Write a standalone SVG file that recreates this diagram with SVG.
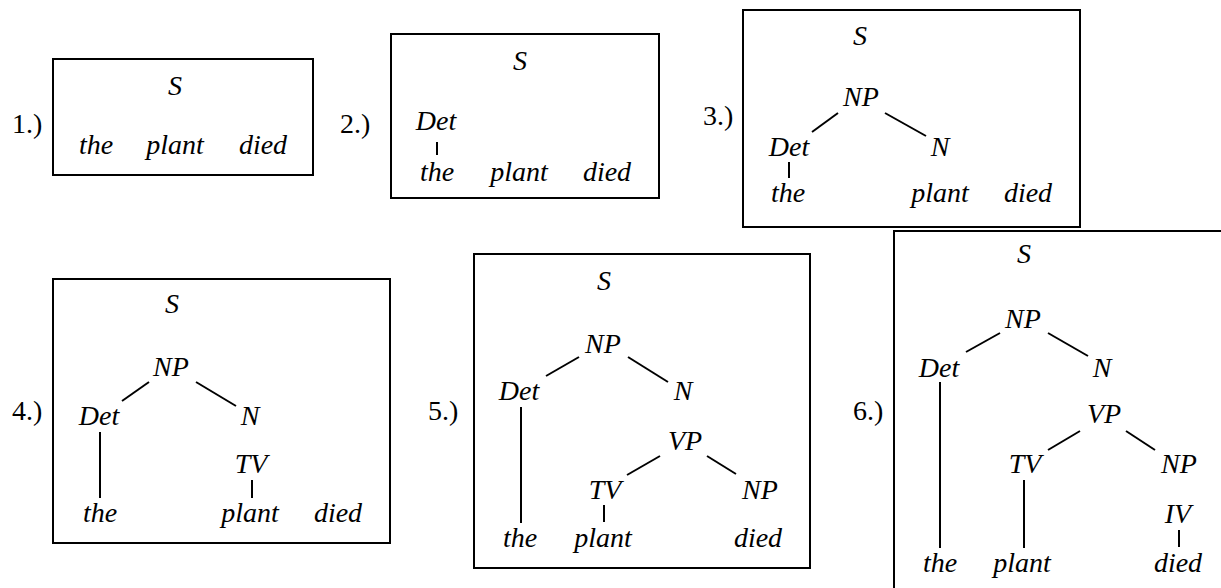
<svg xmlns="http://www.w3.org/2000/svg" width="1221" height="588" viewBox="0 0 1221 588">
<style>
.box{fill:none;stroke:#000;stroke-width:2}
.lbl{font-size:28px;fill:#000}
.t{font-size:28px;font-style:italic;fill:#000;text-anchor:middle}
.e line{stroke:#000;stroke-width:2}
</style>
<rect width="1221" height="588" fill="#fff"/>
<g font-family="Liberation Serif, Times New Roman, DejaVu Serif, serif">
<g id="tree1">
<text class="lbl" x="12" y="133">1.)</text>
<rect class="box" x="53" y="59" width="260" height="116"/>
<text class="t" x="175" y="95">S</text>
<text class="t" x="96" y="154">the</text>
<text class="t" x="175" y="154">plant</text>
<text class="t" x="263" y="154">died</text>
</g>

<g id="tree2">
<text class="lbl" x="340" y="133">2.)</text>
<rect class="box" x="391" y="34" width="268" height="164"/>
<text class="t" x="520" y="70">S</text>
<text class="t" x="436" y="130">Det</text>
<text class="t" x="437" y="181">the</text>
<text class="t" x="519" y="181">plant</text>
<text class="t" x="607" y="181">died</text>
</g>

<g id="tree3">
<text class="lbl" x="703" y="125">3.)</text>
<rect class="box" x="743" y="10" width="337" height="217"/>
<text class="t" x="860" y="45">S</text>
<text class="t" x="861" y="106">NP</text>
<text class="t" x="789" y="156">Det</text>
<text class="t" x="940" y="156">N</text>
<text class="t" x="788" y="202">the</text>
<text class="t" x="940" y="202">plant</text>
<text class="t" x="1028" y="202">died</text>
</g>

<g id="tree4">
<text class="lbl" x="12" y="420">4.)</text>
<rect class="box" x="53" y="279" width="337" height="264"/>
<text class="t" x="172" y="313">S</text>
<text class="t" x="171" y="376">NP</text>
<text class="t" x="99" y="425">Det</text>
<text class="t" x="250" y="425">N</text>
<text class="t" x="251" y="473">TV</text>
<text class="t" x="100" y="522">the</text>
<text class="t" x="250" y="522">plant</text>
<text class="t" x="338" y="522">died</text>
</g>

<g id="tree5">
<text class="lbl" x="428" y="420">5.)</text>
<rect class="box" x="474" y="254" width="336" height="314"/>
<text class="t" x="604" y="290">S</text>
<text class="t" x="603" y="353">NP</text>
<text class="t" x="519" y="400">Det</text>
<text class="t" x="683" y="400">N</text>
<text class="t" x="685" y="450">VP</text>
<text class="t" x="605" y="499">TV</text>
<text class="t" x="760" y="499">NP</text>
<text class="t" x="520" y="547">the</text>
<text class="t" x="603" y="547">plant</text>
<text class="t" x="758" y="547">died</text>
</g>

<g id="tree6">
<text class="lbl" x="853" y="420">6.)</text>
<path class="box" d="M894,588 V231 H1222"/>
<text class="t" x="1024" y="263">S</text>
<text class="t" x="1023" y="328">NP</text>
<text class="t" x="939" y="377">Det</text>
<text class="t" x="1102" y="377">N</text>
<text class="t" x="1104" y="423">VP</text>
<text class="t" x="1025" y="473">TV</text>
<text class="t" x="1179" y="473">NP</text>
<text class="t" x="1178" y="523">IV</text>
<text class="t" x="940" y="572">the</text>
<text class="t" x="1022" y="572">plant</text>
<text class="t" x="1178" y="572">died</text>
</g>
</g>
<g id="connectors" class="e">
<line x1="437" y1="142" x2="437" y2="155"/>

<line x1="838" y1="113" x2="812" y2="132"/>
<line x1="885" y1="113" x2="926" y2="136"/>
<line x1="789" y1="162" x2="789" y2="178"/>

<line x1="149" y1="382" x2="122" y2="401"/>
<line x1="196" y1="382" x2="236" y2="406"/>
<line x1="100" y1="432" x2="100" y2="498"/>
<line x1="252" y1="480" x2="252" y2="498"/>

<line x1="579" y1="357" x2="546" y2="376"/>
<line x1="628" y1="357" x2="668" y2="382"/>
<line x1="521" y1="407" x2="521" y2="523"/>
<line x1="660" y1="456" x2="627" y2="475"/>
<line x1="707" y1="456" x2="736" y2="474"/>
<line x1="604" y1="505" x2="604" y2="522"/>

<line x1="1000" y1="333" x2="966" y2="352"/>
<line x1="1048" y1="333" x2="1088" y2="356"/>
<line x1="940" y1="382" x2="940" y2="548"/>
<line x1="1080" y1="431" x2="1048" y2="450"/>
<line x1="1126" y1="431" x2="1155" y2="450"/>
<line x1="1024" y1="480" x2="1024" y2="548"/>
<line x1="1179" y1="530" x2="1179" y2="547"/>
</g>
</svg>
